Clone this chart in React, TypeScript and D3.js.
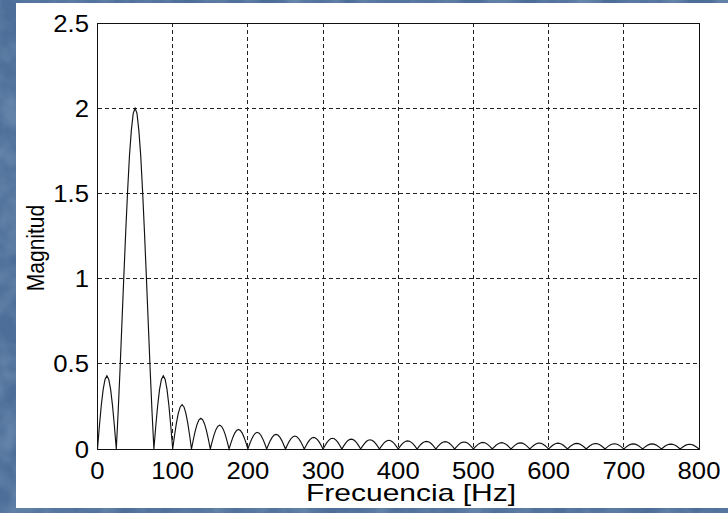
import React from "react";
import * as d3 from "d3";

// Frequency grid spacing of the spectrum samples (Hz)
const freqStep = 2.5;

// Spectrum magnitude around the 50 Hz tone: the main lobe from 25 Hz to 75 Hz
const mainLobe = [
  0, 0.22, 0.47, 0.74, 1.01, 1.27, 1.51, 1.72, 1.87, 1.97, 2.0,
  1.97, 1.87, 1.72, 1.51, 1.27, 1.01, 0.74, 0.47, 0.22, 0,
];

// Normalised shape of one side lobe (25 Hz wide)
const sideLobeShape = [0, 0.31, 0.59, 0.81, 0.95, 1, 0.95, 0.81, 0.59, 0.31, 0];

// Peak height of the side lobe between 0 and 25 Hz
const lowLobePeak = 0.43;

// Peak heights of the side lobes above 75 Hz, one per 25 Hz band
const highLobePeaks = [
  0.43, 0.26, 0.18, 0.14, 0.115, 0.098, 0.086, 0.076, 0.068, 0.063,
  0.058, 0.054, 0.051, 0.048, 0.045, 0.043, 0.041, 0.039, 0.037, 0.036,
  0.035, 0.034, 0.033, 0.032, 0.031, 0.03, 0.03, 0.029, 0.028,
];

const xTicks = [0, 100, 200, 300, 400, 500, 600, 700, 800];
const yTicks = [0, 0.5, 1, 1.5, 2, 2.5];
const yTickLabels = ["0", "0.5", "1", "1.5", "2", "2.5"];

const W = 728;
const H = 513;
const plot = { left: 97.5, right: 699, top: 23, bottom: 449 };
const font = "'Liberation Sans', Arial, sans-serif";
// the figure is shown slightly widened, so text is stretched horizontally
const stretch = 1.07;

type Pt = { f: number; m: number };

function buildSpectrum(): Pt[] {
  const pts: Pt[] = [];
  // lobe from 0 to 25 Hz
  sideLobeShape.forEach((s, i) => pts.push({ f: i * freqStep, m: s * lowLobePeak }));
  // main lobe from 25 to 75 Hz
  mainLobe.forEach((v, i) => {
    if (i === 0) return;
    pts.push({ f: 25 + i * freqStep, m: v });
  });
  // remaining side lobes
  highLobePeaks.forEach((peak, k) => {
    const start = 75 + k * 25;
    sideLobeShape.forEach((s, i) => {
      if (i === 0) return;
      pts.push({ f: start + i * freqStep, m: s * peak });
    });
  });
  return pts;
}

export default function App() {
  const x = d3.scaleLinear().domain([0, 800]).range([plot.left, plot.right]);
  const y = d3.scaleLinear().domain([0, 2.5]).range([plot.bottom, plot.top]);
  const data = buildSpectrum();
  const line = d3
    .line<Pt>()
    .x((d) => x(d.f))
    .y((d) => y(d.m));

  return (
    <div style={{ position: "fixed", left: 0, top: 0 }}>
      <svg width={W} height={H} style={{ display: "block" }}>
        <defs>
          <filter id="mottle" x="0" y="0" width="100%" height="100%">
            <feTurbulence type="fractalNoise" baseFrequency="0.035" numOctaves="3" seed="4" />
            <feColorMatrix
              type="matrix"
              values="0 0 0 0 0.47  0 0 0 0 0.6  0 0 0 0 0.77  0 0 0 0.55 -0.18"
            />
          </filter>
        </defs>
        {/* slide background */}
        <rect x={0} y={0} width={W} height={H} fill="#4c6e98" />
        <rect x={0} y={0} width={W} height={H} filter="url(#mottle)" />

        {/* figure panel */}
        <rect x={16} y={3} width={W - 16} height={505} fill="#ffffff" />

        {/* grid */}
        <g stroke="#222" strokeWidth={1} strokeDasharray="4,3" shapeRendering="crispEdges">
          {xTicks.slice(1, -1).map((t) => (
            <line key={"gx" + t} x1={x(t)} x2={x(t)} y1={plot.top} y2={plot.bottom} />
          ))}
          {yTicks.slice(1, -1).map((t) => (
            <line key={"gy" + t} x1={plot.left} x2={plot.right} y1={y(t)} y2={y(t)} />
          ))}
        </g>

        {/* spectrum */}
        <path d={line(data) ?? ""} fill="none" stroke="#111" strokeWidth={1.15} />

        {/* axes box */}
        <rect
          x={plot.left}
          y={plot.top}
          width={plot.right - plot.left}
          height={plot.bottom - plot.top}
          fill="none"
          stroke="#111"
          strokeWidth={1}
          shapeRendering="crispEdges"
        />

        {/* tick labels */}
        <g fontFamily={font} fontSize={24} fill="#000">
          {xTicks.map((t) => (
            <text
              key={"tx" + t}
              transform={`translate(${x(t)}, 479) scale(${stretch}, 1)`}
              textAnchor="middle"
            >
              {t}
            </text>
          ))}
          {yTicks.map((t, i) => (
            <text
              key={"ty" + t}
              transform={`translate(89, ${y(t) + 8.5}) scale(${stretch}, 1)`}
              textAnchor="end"
            >
              {yTickLabels[i]}
            </text>
          ))}
        </g>

        {/* axis titles */}
        <text
          x={411}
          y={501}
          textAnchor="middle"
          textLength={210}
          lengthAdjust="spacingAndGlyphs"
          fontFamily={font}
          fontSize={24}
          fill="#000"
        >
          Frecuencia [Hz]
        </text>
        <text
          transform={`translate(44, 248) scale(1.15, 1) rotate(-90)`}
          textAnchor="middle"
          fontFamily={font}
          fontSize={21}
          fill="#000"
        >
          Magnitud
        </text>
      </svg>
    </div>
  );
}
